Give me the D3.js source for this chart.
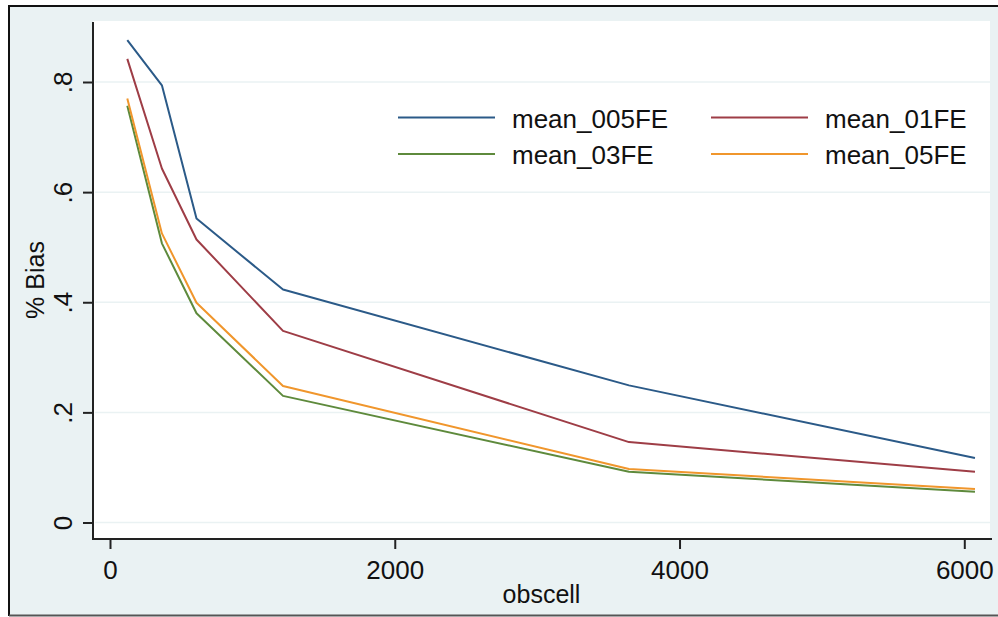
<!DOCTYPE html>
<html>
<head>
<meta charset="utf-8">
<script src="https://cdn.jsdelivr.net/npm/d3@7"></script>
<style>
  body { margin: 0; background: #fff; }
  svg { display: block; font-family: "Liberation Sans", Arial, sans-serif; }
</style>
</head>
<body>
<svg width="998" height="617"></svg>
<script>
// data
var obscell = [121.5, 364.5, 607.5, 1215, 3645, 6075];
var mean_005FE = [0.876, 0.794, 0.552, 0.423, 0.249, 0.117];
var mean_01FE = [0.842, 0.643, 0.514, 0.348, 0.146, 0.092];
var mean_03FE = [0.757, 0.507, 0.380, 0.230, 0.092, 0.056];
var mean_05FE = [0.770, 0.525, 0.399, 0.248, 0.097, 0.061];
var seriesNames = ['mean_005FE', 'mean_01FE', 'mean_03FE', 'mean_05FE'];
var xTicks = [0, 2000, 4000, 6000];
var yTicks = [0, 0.2, 0.4, 0.6, 0.8];

var drawChart = function () {
    var svg = d3.select('svg');
    var plot = { left: 93, right: 990, top: 21, bottom: 539 };
    var colors = ['#2b5a88', '#9e3d46', '#5e8a3c', '#f0962c'];
    var values = [mean_005FE, mean_01FE, mean_03FE, mean_05FE];

    // outer graph region
    svg.append('rect')
        .attr('x', 9).attr('y', 6)
        .attr('width', 995).attr('height', 609)
        .attr('fill', '#eaf2f3');
    svg.append('path')
        .attr('d', 'M9,616 L9,6 L998,6')
        .attr('fill', 'none').attr('stroke', '#111').attr('stroke-width', 2);
    svg.append('line')
        .attr('x1', 9).attr('x2', 998).attr('y1', 615.5).attr('y2', 615.5)
        .attr('stroke', '#555').attr('stroke-width', 2);

    // plot region
    svg.append('rect')
        .attr('x', plot.left).attr('y', plot.top)
        .attr('width', plot.right - plot.left).attr('height', plot.bottom - plot.top)
        .attr('fill', '#fff');

    var xScale = d3.scaleLinear().domain([0, 6000]).range([110, 964.3]);
    var yScale = d3.scaleLinear().domain([0, 0.8]).range([522.5, 82]);

    // grid lines
    svg.append('g').selectAll('line')
        .data(yTicks)
        .enter().append('line')
        .attr('x1', plot.left + 2).attr('x2', plot.right)
        .attr('y1', d => yScale(d)).attr('y2', d => yScale(d))
        .attr('stroke', '#eaf2f3').attr('stroke-width', 1.5);

    // axes
    var yAxis = d3.axisLeft(yScale)
        .tickValues(yTicks)
        .tickSize(10)
        .tickFormat(d => d === 0 ? '0' : d3.format('.1f')(d).replace(/^0/, ''));
    var xAxis = d3.axisBottom(xScale)
        .tickValues(xTicks)
        .tickSize(10)
        .tickFormat(d3.format('d'));

    var gy = svg.append('g')
        .attr('transform', 'translate(' + [plot.left, 0] + ')')
        .call(yAxis);
    gy.select('.domain').remove();
    gy.append('line')
        .attr('x1', 0).attr('x2', 0).attr('y1', 22).attr('y2', plot.bottom + 1)
        .attr('stroke', '#222').attr('stroke-width', 2);
    gy.selectAll('.tick line').attr('stroke', '#222').attr('stroke-width', 2);
    gy.selectAll('.tick text')
        .attr('x', null).attr('dy', null)
        .attr('transform', 'translate(-21,0) rotate(-90)')
        .attr('text-anchor', 'middle')
        .attr('font-size', 26)
        .attr('fill', '#111');

    var gx = svg.append('g')
        .attr('transform', 'translate(' + [0, plot.bottom] + ')')
        .call(xAxis);
    gx.select('.domain').remove();
    gx.append('line')
        .attr('x1', plot.left - 1).attr('x2', 992).attr('y1', 0).attr('y2', 0)
        .attr('stroke', '#222').attr('stroke-width', 2);
    gx.selectAll('.tick line').attr('stroke', '#222').attr('stroke-width', 2);
    gx.selectAll('.tick text')
        .attr('y', 40).attr('dy', null)
        .attr('font-size', 26)
        .attr('fill', '#111');

    // axis titles
    svg.append('text')
        .attr('x', (plot.left + plot.right) / 2).attr('y', 603)
        .attr('text-anchor', 'middle')
        .attr('font-size', 25).attr('fill', '#111')
        .text('obscell');
    svg.append('text')
        .attr('transform', 'translate(44,280) rotate(-90)')
        .attr('text-anchor', 'middle')
        .attr('font-size', 25).attr('fill', '#111')
        .text('% Bias');

    // lines
    var line = d3.line()
        .x((d, i) => xScale(obscell[i]))
        .y(d => yScale(d));

    svg.append('g').selectAll('path')
        .data(values)
        .enter().append('path')
        .attr('d', d => line(d))
        .attr('fill', 'none')
        .attr('stroke', (d, i) => colors[i])
        .attr('stroke-width', 2)
        .attr('stroke-linejoin', 'round');

    // legend, two columns
    var legendX = [398, 711];
    var legendY = [117.5, 154];
    var legend = svg.append('g').selectAll('g')
        .data(seriesNames)
        .enter().append('g')
        .attr('transform', (d, i) => 'translate(' + [legendX[i % 2], legendY[Math.floor(i / 2)]] + ')');
    legend.append('line')
        .attr('x1', 0).attr('x2', 97)
        .attr('stroke', (d, i) => colors[i])
        .attr('stroke-width', 2);
    legend.append('text')
        .attr('x', 114).attr('y', 10)
        .attr('font-size', 26).attr('fill', '#111')
        .text(d => d);
};

drawChart();
</script>
</body>
</html>
